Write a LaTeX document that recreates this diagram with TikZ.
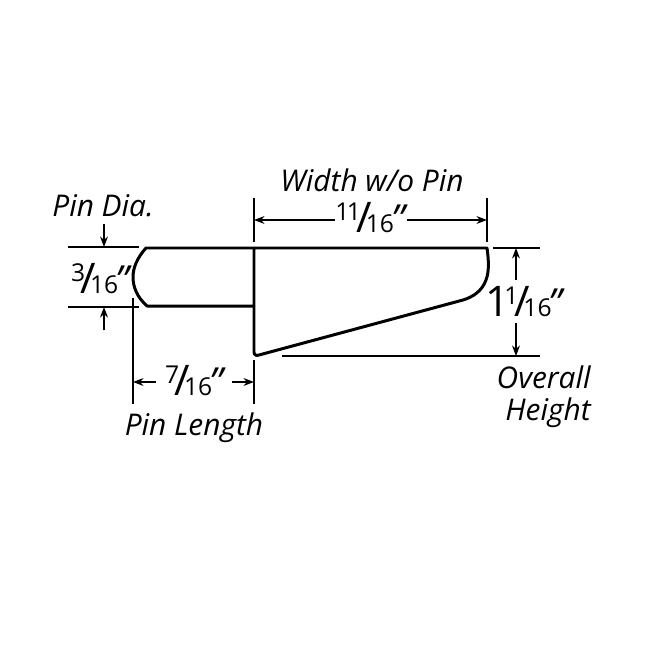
\documentclass[tikz,border=0pt]{standalone}
\usepackage{fontspec}
\setmainfont{Open Sans}
\usetikzlibrary{arrows.meta}
\newcommand{\frc}[2]{\raisebox{6.5pt}{\fontsize{14}{14}\selectfont #1}\kern-2.5pt{\fontsize{24}{24}\selectfont /}\kern-3.5pt{\fontsize{14}{14}\selectfont #2}\kern-1.5pt{\fontsize{22}{22}\selectfont\itshape"}}

\begin{document}
\begin{tikzpicture}[x=0.02cm, y=-0.02cm,
  outline/.style = {line width=1.7pt, line join=round},
  extline/.style = {line width=0.65pt},
  dimline/.style = {line width=0.65pt, -{Stealth[length=6pt,width=4.5pt]}},
  every node/.style = {inner sep=0pt, align=center, font=\fontsize{17}{18}\selectfont},
  label/.style = {font=\fontsize{17}{18}\selectfont\itshape},
  value/.style = {anchor=base}]
  \useasboundingbox (0,0) rectangle (650,650);
  % the part
  \draw[outline] (254,248) -- (146,248) .. controls (137,258) and (133,268) .. (133,277)
    .. controls (133,287) and (137,297) .. (147,306) -- (254,306);
  \draw[outline] (254,248) -- (487,248) .. controls (489,262) and (489,272) .. (486,280)
    .. controls (482,291) and (473,297) .. (463,300) -- (259,355)
    .. controls (256,356) and (254,355) .. (254,352) -- cycle;
  % texts
  \node[label] (pindia) at (103,206) {Pin Dia.};
  \node[label] (widthlabel) at (372,180) {Width w/o Pin};
  \node[label] (pinlength) at (194,428) {Pin Length};
  \node[label, align=right, anchor=east] (overall) at (591,397) {Overall\\Height};
  \node[value] (pinval) at (100,293) {\frc{3}{16}};
  \node[value] (lengthval) at (194,395) {\frc{7}{16}};
  \node[value] (widthval) at (370,232) {\frc{1\kern-1.5pt 1}{16}};
  \node[value] (heightval) at (524,316) {{\fontsize{24}{24}\selectfont 1}\kern-3pt\frc{1}{16}};
  % ends of the dimension lines
  \coordinate (pintopa) at (68,247);
  \coordinate (pintopb) at (139,247);
  \coordinate (pinbota) at (68,307);
  \coordinate (pinbotb) at (139,307);
  \coordinate (pinarrowa) at (104,224);
  \coordinate (pinarrowb) at (104,247);
  \coordinate (pinarrowc) at (104,330);
  \coordinate (pinarrowd) at (104,307);
  \coordinate (lena) at (133,298);
  \coordinate (lenb) at (133,404);
  \coordinate (lenc) at (254,360);
  \coordinate (lend) at (254,404);
  \coordinate (lenl) at (133,382);
  \coordinate (lenr) at (254,382);
  \coordinate (wida) at (254,198);
  \coordinate (widb) at (254,242);
  \coordinate (widc) at (487,198);
  \coordinate (widd) at (487,242);
  \coordinate (widl) at (254,220);
  \coordinate (widr) at (487,220);
  \coordinate (heia) at (493,248);
  \coordinate (heib) at (540,248);
  \coordinate (heic) at (282,356);
  \coordinate (heid) at (540,356);
  \coordinate (heit) at (516,248);
  \coordinate (heiu) at (516,356);
  \coordinate (heiv) at (516,280);
  \coordinate (heiw) at (516,323);
  \coordinate (lenm) at (156,382);
  \coordinate (lenn) at (232,382);
  \coordinate (widm) at (335,220);
  \coordinate (widn) at (407,220);
  % extension lines
  \foreach \a/\b in {pintopa/pintopb, pinbota/pinbotb, lena/lenb, lenc/lend, wida/widb, widc/widd, heia/heib, heic/heid}
    \draw[extline] (\a) -- (\b);
  % arrows
  \foreach \a/\b in {pinarrowa/pinarrowb, pinarrowc/pinarrowd, lenm/lenl, lenn/lenr, widm/widl, widn/widr, heiv/heit, heiw/heiu}
    \draw[dimline] (\a) -- (\b);
\end{tikzpicture}
\end{document}
